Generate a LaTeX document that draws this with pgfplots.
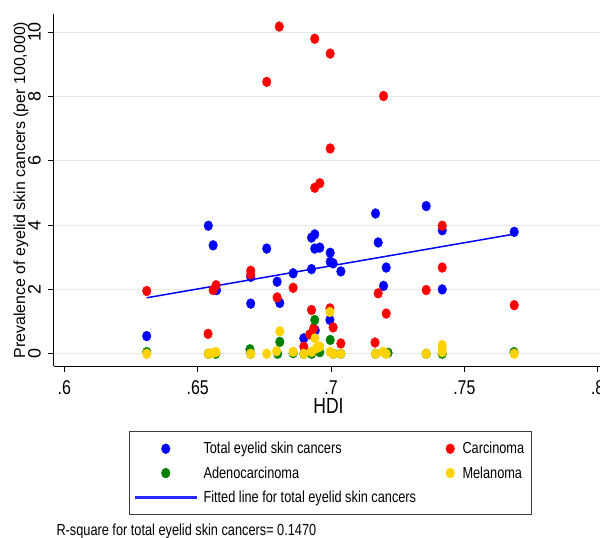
\documentclass[border=0pt]{standalone}
\usepackage{pgfplots}
\pgfplotsset{compat=1.18}
\usepackage{fontspec}
\setmainfont{Liberation Sans}
\newfontfamily\narrowfont[FakeStretch=0.8]{Liberation Sans}
\definecolor{sblue}{RGB}{0,0,255}
\definecolor{lblue}{RGB}{40,40,255}
\definecolor{sred}{RGB}{255,0,0}
\definecolor{sgreen}{RGB}{0,128,0}
\definecolor{sgold}{RGB}{255,210,0}
\definecolor{gridc}{RGB}{226,234,238}
\definecolor{legframe}{RGB}{60,60,60}

\pgfplotstableread{
x y
0.6309 0.55
0.6540 3.98
0.6558 3.37
0.6571 1.98
0.6699 2.39
0.6699 1.56
0.6759 3.27
0.6798 2.24
0.6808 1.58
0.6858 2.50
0.6898 0.48
0.6927 2.63
0.6927 3.61
0.6939 3.71
0.6939 3.27
0.6958 3.30
0.6941 0.73
0.6997 3.14
0.6997 2.86
0.7008 2.81
0.6996 1.05
0.7037 2.56
0.7167 4.36
0.7177 3.46
0.7207 2.68
0.7197 2.11
0.7357 4.59
0.7417 3.84
0.7417 2.00
0.7687 3.79
}\totaltab

\pgfplotstableread{
x y
0.6309 1.95
0.6539 0.62
0.6558 1.98
0.6569 2.13
0.6699 2.58
0.6699 2.47
0.6759 8.45
0.6798 1.75
0.6806 10.17
0.6858 2.05
0.6898 0.22
0.6920 0.60
0.6927 1.36
0.6935 0.79
0.6939 9.79
0.6939 5.16
0.6958 5.30
0.6997 9.33
0.6997 6.38
0.6996 1.41
0.7008 0.82
0.7037 0.32
0.7165 0.35
0.7177 1.88
0.7197 8.01
0.7207 1.25
0.7357 1.98
0.7417 3.98
0.7417 2.68
0.7687 1.51
}\carctab

\pgfplotstableread{
x y
0.6309 0.05
0.6540 0.00
0.6568 0.00
0.6696 0.14
0.6699 0.00
0.6800 0.00
0.6808 0.37
0.6858 0.02
0.6898 0.00
0.6939 1.05
0.6927 0.00
0.6958 0.05
0.6997 0.43
0.7008 0.00
0.7037 0.00
0.7167 0.00
0.7214 0.03
0.7357 0.00
0.7417 0.00
0.7686 0.05
}\adenotab

\pgfplotstableread{
x y
0.6309 0.00
0.6540 0.00
0.6558 0.03
0.6569 0.05
0.6699 0.00
0.6759 0.00
0.6796 0.08
0.6808 0.70
0.6858 0.06
0.6898 0.00
0.6927 0.06
0.6940 0.48
0.6945 0.17
0.6958 0.22
0.6996 1.30
0.6997 0.06
0.7008 0.00
0.7037 0.00
0.7167 0.00
0.7195 0.06
0.7207 0.00
0.7357 0.00
0.7417 0.27
0.7417 0.14
0.7417 0.05
0.7687 0.00
}\melatab

\begin{document}
\begin{tikzpicture}
\begin{axis}[
  at={(54bp,-366bp)}, anchor=south west,
  width=554bp, height=352bp, scale only axis,
  xmin=0.59614, xmax=0.80386, ymin=-0.38, ymax=10.56,
  axis lines*=left,
  axis line style={black, line width=1bp},
  xtick={0.6,0.65,0.7,0.75,0.8},
  xticklabels={.6,.65,.7,.75,.8},
  ytick={0,2,4,6,8,10},
  yticklabels={0,2,4,6,8,10},
  tick align=outside, major tick length=6bp,
  tick style={black, line width=1bp},
  ymajorgrids, grid style={gridc, line width=1bp},
  xticklabel style={font=\narrowfont\fontsize{20}{20}\selectfont, anchor=base, yshift=-22.3bp, inner ysep=1bp},
  yticklabel style={font=\fontsize{18}{18}\selectfont, xshift=-7.3bp, rotate=90, anchor=base},
  every axis x label/.style={at={(axis description cs:0.4955,-0.1344)}, anchor=base, inner ysep=1bp, font=\narrowfont\fontsize{22}{24}\selectfont},
  every axis y label/.style={at={(axis description cs:-0.052,0.5)}, rotate=90, anchor=base, font=\fontsize{16}{18}\selectfont},
  xlabel={HDI},
  ylabel={Prevalence of eyelid skin cancers (per 100,000)},
  legend columns=2,
  legend cell align=left,
  legend image code/.code={\draw[mark repeat=2,mark phase=2,#1] plot coordinates {(0bp,0bp)(30bp,0bp)(60bp,0bp)};},
  legend style={at={(axis description cs:0.1354,-0.1847)}, anchor=north west, draw=legframe, line width=1bp, inner xsep=5.5bp, inner ysep=8.7bp, font=\narrowfont\fontsize{16}{18}\selectfont, row sep=7.3bp,
     /tikz/column 1/.style={column sep=5bp},
     /tikz/column 2/.style={column sep=27.8bp},
     /tikz/column 3/.style={column sep=6bp}},
  mk/.style={only marks, mark=*, mark size=4.3bp, mark options={yscale=1.15, draw=#1, fill=#1, line width=0.4bp}},
  narrowleg/.style={legend image code/.code={\draw[mark repeat=2,mark phase=2,##1] plot coordinates {(0bp,0bp)(5bp,0bp)(10bp,0bp)};}},
]
\addplot[mk=sblue] table[x=x,y=y] {\totaltab};
\addlegendentry{Total eyelid skin cancers}
\addplot[mk=sred, narrowleg] table[x=x,y=y] {\carctab};
\addlegendentry{Carcinoma}
\addplot[mk=sgreen] table[x=x,y=y] {\adenotab};
\addlegendentry{Adenocarcinoma}
\addplot[mk=sgold, narrowleg] table[x=x,y=y] {\melatab};
\addlegendentry{Melanoma}
\addplot[draw=sblue, line width=1.5bp, mark=none,
  legend image code/.code={\fill[lblue] (0bp,-1bp) rectangle (60bp,1bp);}]
  coordinates {(0.6309,1.74) (0.7687,3.72)};
\addlegendentry{Fitted line for total eyelid skin cancers}
\end{axis}
\node[anchor=base west, inner sep=0pt, font=\narrowfont\fontsize{16}{18}\selectfont] at (56.3bp,-535.5bp) {R-square for total eyelid skin cancers= 0.1470};
\pgfresetboundingbox
\path[use as bounding box] (0,0) rectangle (600bp,-538bp);
\end{tikzpicture}
\end{document}
